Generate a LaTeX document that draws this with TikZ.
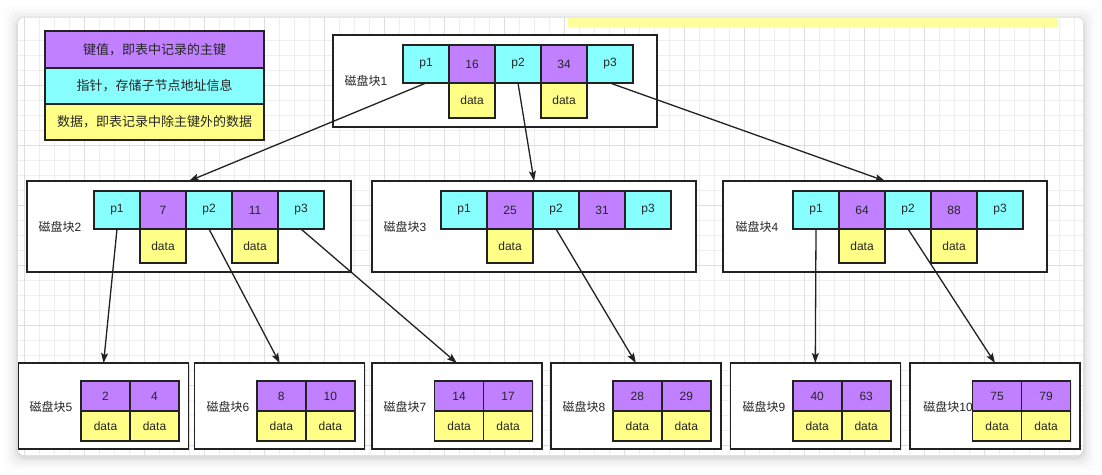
\documentclass[tikz,border=0pt]{standalone}
\usepackage{fontspec}
\setmainfont{Liberation Sans}
\newfontfamily\cjk{Noto Sans CJK SC}
\usepackage{tikz}
\usetikzlibrary{arrows.meta,positioning,shadows}
\definecolor{Key}{HTML}{C080FF}
\definecolor{Ptr}{HTML}{88FFFF}
\definecolor{Data}{HTML}{FFFF88}
\definecolor{Strip}{HTML}{FFFF99}
\definecolor{Line}{HTML}{222222}
\definecolor{GridMinor}{HTML}{EEEEEE}
\definecolor{GridMajor}{HTML}{DEDEDE}

\begin{document}
\begin{tikzpicture}[
  x=1pt, y=-1pt,
  >={Stealth[length=10pt,width=7pt,inset=2pt]},
  node distance=0pt,
  every node/.style={font=\fontsize{12}{14}\selectfont, text=black!85},
  cell/.style={
    draw=Line,
    line width=1.6pt,
    outer sep=0pt,
    inner sep=0pt,
    minimum width=46pt,
    minimum height=38pt,
    drop shadow={shadow xshift=1.2pt, shadow yshift=-1.2pt, opacity=.18}
  },
  key/.style={cell, fill=Key},
  ptr/.style={cell, fill=Ptr},
  dat/.style={cell, fill=Data, minimum height=35pt},
  small/.style={minimum width=49pt, minimum height=30pt},
  disk/.style={
    draw=Line,
    line width=1.6pt,
    fill=white,
    outer sep=0pt,
    anchor=north west,
    drop shadow={shadow xshift=1.2pt, shadow yshift=-1.2pt, opacity=.18}
  },
  lbl/.style={inner sep=0pt},
  lgd/.style={
    cell,
    minimum width=219pt,
    minimum height=36pt,
    font=\cjk\fontsize{13}{15}\selectfont
  },
  link/.style={->, draw=Line, line width=1.3pt}
]
\useasboundingbox (0,0) rectangle (1102,474);
\fill[white] (0,0) rectangle (1102,474);

% canvas
\foreach \s/\o in {14/0.012, 10/0.018, 7/0.025, 4/0.035, 2/0.045}
  \fill[black, opacity=\o, rounded corners=9pt] (18-\s,18-\s+2) rectangle (1083+\s,455+\s+2);
\fill[white, rounded corners=6pt] (18,18) rectangle (1083,455);
\begin{scope}
  \clip[rounded corners=6pt] (18,18) rectangle (1083,455);
  \foreach \gx in {24.3,39.3,...,1083}
    \draw[GridMinor, line width=0.9pt] (\gx,18) -- (\gx,455);
  \foreach \gy in {40,55,...,455}
    \draw[GridMinor, line width=0.9pt] (18,\gy) -- (1083,\gy);
  \foreach \gx in {24.3,84.3,...,1083}
    \draw[GridMajor, line width=0.9pt] (\gx,18) -- (\gx,455);
  \foreach \gy in {85,145,...,455}
    \draw[GridMajor, line width=0.9pt] (18,\gy) -- (1083,\gy);
  \fill[Strip] (568,18) rectangle (1058,27);
\end{scope}

% Légende
\node[lgd, fill=Key, minimum height=37pt, anchor=north west] (lgkey) at (45,31) {键值，即表中记录的主键};
\node[lgd, fill=Ptr, below=of lgkey] (lgptr) {指针，存储子节点地址信息};
\node[lgd, fill=Data, below=of lgptr] (lgdata) {数据，即表记录中除主键外的数据};

% Disque 1
\node[disk, minimum width=324pt, minimum height=92pt] (b1) at (333,35) {};
\node[lbl] (b1l) at (366,81) {{\cjk 磁盘块}1};
\node[ptr, anchor=north west] (b1p1) at (403,45) {p1};
\node[key, right=of b1p1] (b1k1) {16};
\node[ptr, right=of b1k1] (b1p2) {p2};
\node[key, right=of b1p2] (b1k2) {34};
\node[ptr, right=of b1k2] (b1p3) {p3};
\node[dat, below=of b1k1] (b1d1) {data};
\node[dat, below=of b1k2] (b1d2) {data};

% Disque 2
\node[disk, minimum width=324pt, minimum height=91pt] (b2) at (27,181) {};
\node[lbl] (b2l) at (60,227) {{\cjk 磁盘块}2};
\node[ptr, anchor=north west] (b2p1) at (94,191) {p1};
\node[key, right=of b2p1] (b2k1) {7};
\node[ptr, right=of b2k1] (b2p2) {p2};
\node[key, right=of b2p2] (b2k2) {11};
\node[ptr, right=of b2k2] (b2p3) {p3};
\node[dat, minimum height=34pt, below=of b2k1] (b2d1) {data};
\node[dat, minimum height=34pt, below=of b2k2] (b2d2) {data};

% Disque 3
\node[disk, minimum width=324pt, minimum height=91pt] (b3) at (372,181) {};
\node[lbl] (b3l) at (405,227) {{\cjk 磁盘块}3};
\node[ptr, anchor=north west] (b3p1) at (441,191) {p1};
\node[key, right=of b3p1] (b3k1) {25};
\node[ptr, right=of b3k1] (b3p2) {p2};
\node[key, right=of b3p2] (b3k2) {31};
\node[ptr, right=of b3k2] (b3p3) {p3};
\node[dat, minimum height=34pt, below=of b3k1] (b3d1) {data};

% Disque 4
\node[disk, minimum width=324pt, minimum height=91pt] (b4) at (723,181) {};
\node[lbl] (b4l) at (757,227) {{\cjk 磁盘块}4};
\node[ptr, anchor=north west] (b4p1) at (793,191) {p1};
\node[key, right=of b4p1] (b4k1) {64};
\node[ptr, right=of b4k1] (b4p2) {p2};
\node[key, right=of b4p2] (b4k2) {88};
\node[ptr, right=of b4k2] (b4p3) {p3};
\node[dat, minimum height=34pt, below=of b4k1] (b4d1) {data};
\node[dat, minimum height=34pt, below=of b4k2] (b4d2) {data};

% Disques 5 à 10 (feuilles)
\node[disk, minimum width=170pt, minimum height=86pt] (b5) at (18.6,363) {};
\node[lbl] (b5l) at (51,407) {{\cjk 磁盘块}5};
\node[key, small, anchor=north west] (b5k1) at (81,381) {2};
\node[key, small, right=of b5k1] (b5k2) {4};
\node[dat, small, below=of b5k1] (b5d1) {data};
\node[dat, small, below=of b5k2] (b5d2) {data};

\node[disk, minimum width=170pt, minimum height=86pt] (b6) at (194.6,363) {};
\node[lbl] (b6l) at (228,407) {{\cjk 磁盘块}6};
\node[key, small, anchor=north west] (b6k1) at (256.8,381) {8};
\node[key, small, right=of b6k1] (b6k2) {10};
\node[dat, small, below=of b6k1] (b6d1) {data};
\node[dat, small, below=of b6k2] (b6d2) {data};

\node[disk, minimum width=170pt, minimum height=86pt] (b7) at (371.8,363) {};
\node[lbl] (b7l) at (405,407) {{\cjk 磁盘块}7};
\node[key, small, anchor=north west] (b7k1) at (434.6,381) {14};
\node[key, small, right=of b7k1] (b7k2) {17};
\node[dat, small, below=of b7k1] (b7d1) {data};
\node[dat, small, below=of b7k2] (b7d2) {data};

\node[disk, minimum width=170pt, minimum height=86pt] (b8) at (550.8,363) {};
\node[lbl] (b8l) at (584,407) {{\cjk 磁盘块}8};
\node[key, small, anchor=north west] (b8k1) at (612.8,381) {28};
\node[key, small, right=of b8k1] (b8k2) {29};
\node[dat, small, below=of b8k1] (b8d1) {data};
\node[dat, small, below=of b8k2] (b8d2) {data};

\node[disk, minimum width=170pt, minimum height=86pt] (b9) at (730.3,363) {};
\node[lbl] (b9l) at (764,407) {{\cjk 磁盘块}9};
\node[key, small, anchor=north west] (b9k1) at (792.7,381) {40};
\node[key, small, right=of b9k1] (b9k2) {63};
\node[dat, small, below=of b9k1] (b9d1) {data};
\node[dat, small, below=of b9k2] (b9d2) {data};

\node[disk, minimum width=170pt, minimum height=86pt] (b10) at (910,363) {};
\node[lbl] (b10l) at (948,407) {{\cjk 磁盘块}10};
\node[key, small, anchor=north west] (b10k1) at (972.6,381) {75};
\node[key, small, right=of b10k1] (b10k2) {79};
\node[dat, small, below=of b10k1] (b10d1) {data};
\node[dat, small, below=of b10k2] (b10d2) {data};

% Flèches
\draw[link] (b1p1.south) -- (b2.north);
\draw[link] (b1p2.south) -- (b3.north);
\draw[link] (b1p3.south) -- (b4.north);
\draw[link] (b2p1.south) -- (b5.north);
\draw[link] (b2p2.south) -- (b6.north);
\draw[link] (b2p3.south) -- (b7.north);
\draw[link] (b3p2.south) -- (b8.north);
\draw[link] (b4p1.south) -- (b9.north);
\draw[link] (b4p2.south) -- (b10.north);
\end{tikzpicture}
\end{document}
